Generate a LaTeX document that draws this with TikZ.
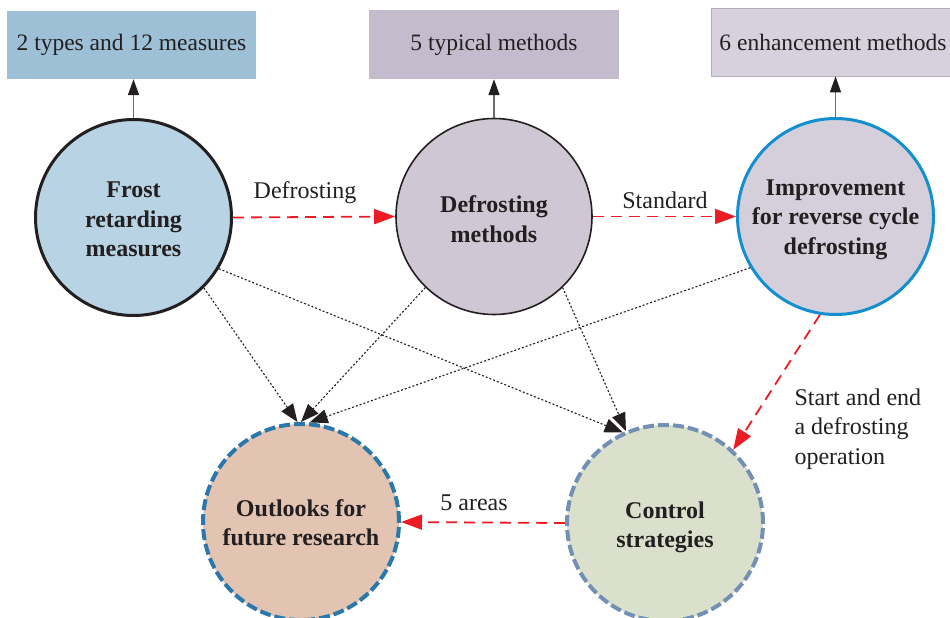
\documentclass[tikz,border=0pt]{standalone}
\usepackage{fontspec}
\setmainfont{Liberation Serif}
\usetikzlibrary{arrows.meta}
\definecolor{txt}{HTML}{231F20}
\definecolor{redarr}{HTML}{ED1C24}
\definecolor{boxA}{HTML}{9EC0D6}
\definecolor{boxB}{HTML}{C4BCCD}
\definecolor{boxC}{HTML}{D6D1DD}
\definecolor{boxCline}{HTML}{B4ADBB}
\definecolor{fillFrost}{HTML}{B8D3E4}
\definecolor{fillDef}{HTML}{CFC7D4}
\definecolor{fillImp}{HTML}{D4CFDB}
\definecolor{fillOut}{HTML}{E3C4B3}
\definecolor{fillCtl}{HTML}{DAE0CB}
\definecolor{lineImp}{HTML}{138FCF}
\definecolor{lineOut}{HTML}{2A78AB}
\definecolor{lineCtl}{HTML}{7390B4}
\newcommand\ctext[2]{\raisebox{#1}[\height][\depth]{\begin{tabular}{@{}c@{}}#2\end{tabular}}}
\begin{document}
\begin{tikzpicture}[x=1pt,y=-1pt,
  every node/.style={text=txt},
  topbox/.style={rectangle, inner sep=0pt, font=\fontsize{23.5}{28}\selectfont},
  bigcircle/.style={circle, minimum size=196pt, inner sep=0pt, align=center,
    font=\bfseries\fontsize{24}{29.5}\selectfont},
  lbl/.style={font=\fontsize{24}{30}\selectfont},
  uparr/.style={draw=gray!85!black, line width=1.5pt, -{Triangle[length=16pt,width=11pt,color=txt]}},
  redline/.style={draw=redarr, line width=1.8pt, dash pattern=on 11pt off 7pt,
    -{Triangle[length=21pt,width=15pt,color=redarr]}},
  dotline/.style={draw=txt, line width=1.1pt, dash pattern=on 2pt off 2pt,
    -{Triangle[length=18pt,width=14pt,color=txt]}}]
\clip (0,0) rectangle (950,618);
% top boxes
\node[topbox, fill=boxA, minimum width=249pt, minimum height=68pt] (b1) at (131.5,45) {2 types and 12 measures};
\node[topbox, fill=boxB, minimum width=250pt, minimum height=69pt] (b2) at (494,44.5) {5 typical methods};
\node[topbox, fill=boxC, draw=boxCline, line width=0.8pt, minimum width=244pt, minimum height=68pt] (b3) at (833,42) {6 enhancement methods};
% circles
\node[bigcircle, fill=fillFrost, draw=txt, line width=3pt] (frost) at (133.5,217.5) {\ctext{-4pt}{Frost\\retarding\\measures}};
\node[bigcircle, fill=fillDef, draw=txt, line width=1.6pt] (def) at (494,216.5) {\ctext{-5pt}{Defrosting\\methods}};
\node[bigcircle, fill=fillImp, draw=lineImp, line width=3pt] (imp) at (835.5,216.5) {\ctext{-2.5pt}{Improvement\\for reverse cycle\\defrosting}};
\node[bigcircle, fill=fillOut, draw=lineOut, line width=4pt, dash pattern=on 11pt off 4pt] (out) at (301,522) {\ctext{-3pt}{Outlooks for\\future research}};
\node[bigcircle, fill=fillCtl, draw=lineCtl, line width=4pt, dash pattern=on 11pt off 4pt] (ctl) at (665,523) {\ctext{-4pt}{Control\\strategies}};
% vertical arrows to boxes
\draw[uparr] (frost.north) -- (b1.south -| frost.north);
\draw[uparr] (def.north) -- (b2.south);
\draw[uparr] (imp.north) -- (b3.south -| imp.north);
% red dashed arrows
\draw[redline] (frost.east) -- (def.west);
\draw[redline] (def.east) -- (imp.west);
\draw[redline] (imp.-99) -- (ctl.47);
\draw[redline] (ctl.west) -- (out.east);
% dotted arrows
\draw[dotline] (frost.-45) -- (out.92);
\draw[dotline] (frost.-31) -- (ctl.115);
\draw[dotline] (def.226) -- (out.90);
\draw[dotline] (def.-46) -- (ctl.113);
\draw[dotline] (imp.211) -- (out.85);
% labels
\node[lbl] (l1) at (305,193) {Defrosting};
\node[lbl] (l2) at (665,200) {Standard};
\node[lbl] (l3) at (474,503) {5 areas};
\node[lbl, align=left, anchor=west, font=\fontsize{24}{29.5}\selectfont] (l4) at (791,429) {Start and end\\a defrosting\\operation};
\end{tikzpicture}
\end{document}
